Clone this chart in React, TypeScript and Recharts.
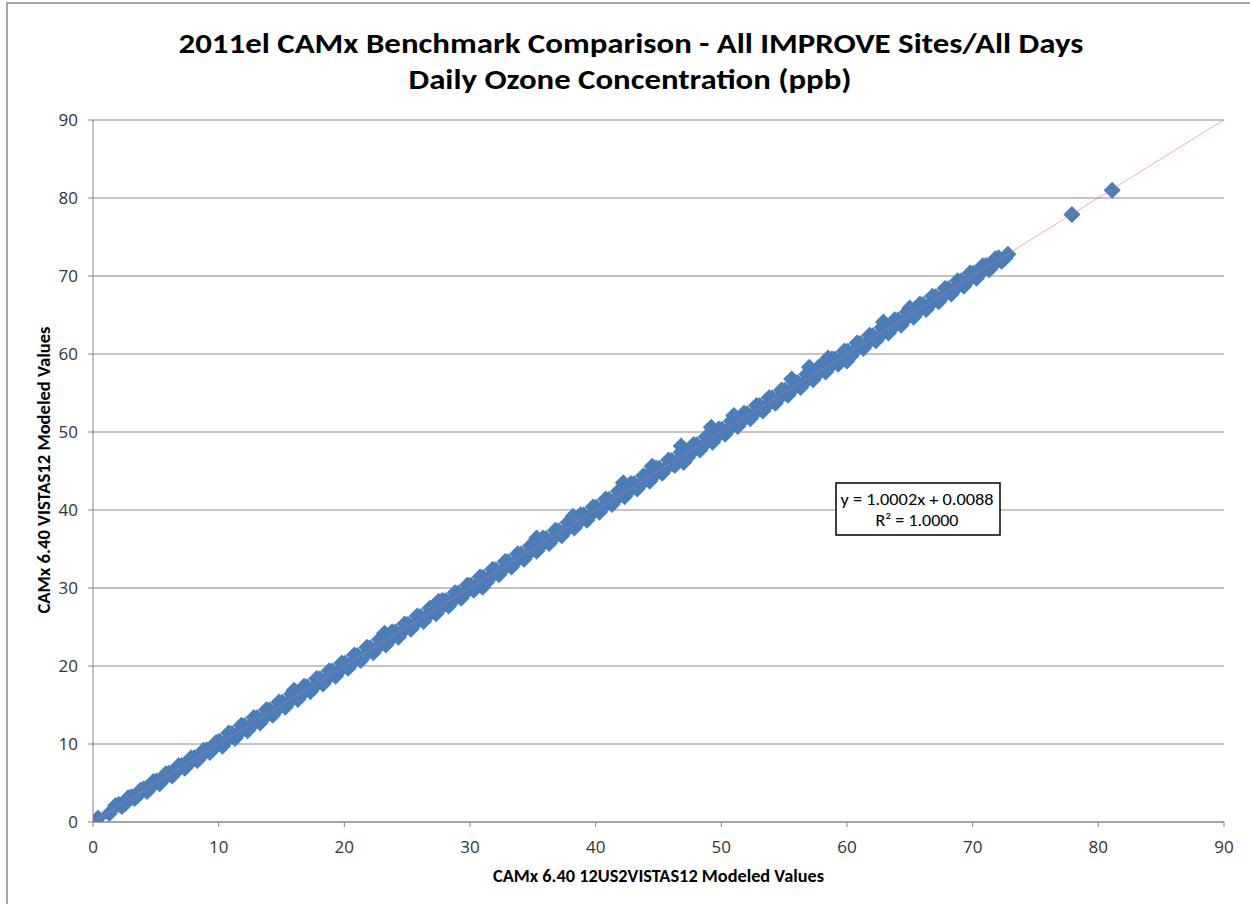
import React from "react";
import {
  ScatterChart,
  CartesianGrid,
  XAxis,
  YAxis,
  Scatter,
} from "recharts";

// [12US2VISTAS12, VISTAS12] daily ozone pairs
const bandPoints: [number, number][] = [
  [0.4, 0.5],
  [1.3, 1.1], [1.8, 2.1], [2.3, 2.0], [2.8, 3.1], [3.3, 3.0], [3.8, 4.1],
  [4.3, 3.9], [4.8, 5.2], [5.3, 4.9], [5.8, 6.2], [6.3, 5.9], [6.8, 7.2],
  [7.3, 6.9], [7.8, 8.2], [8.3, 7.9], [8.8, 9.2], [9.3, 8.9], [9.8, 10.2],
  [10.3, 9.7], [10.8, 11.4], [11.3, 10.7], [11.8, 12.4], [12.3, 11.7], [12.8, 13.4],
  [13.3, 12.7], [13.8, 14.4], [14.3, 13.7], [14.8, 15.4], [15.3, 14.7], [15.8, 16.4],
  [16.3, 15.7], [16.8, 17.4], [17.3, 16.7], [17.8, 18.4], [18.3, 17.7], [18.8, 19.4],
  [19.3, 18.7], [19.8, 20.4], [20.3, 19.7], [20.8, 21.4], [21.3, 20.7], [21.8, 22.4],
  [22.3, 21.7], [22.8, 23.4], [23.3, 22.7], [23.8, 24.4], [24.3, 23.7], [24.8, 25.4],
  [25.3, 24.7], [25.8, 26.4], [26.3, 25.7], [26.8, 27.4], [27.3, 26.7], [27.8, 28.4],
  [28.3, 27.7], [28.8, 29.4], [29.3, 28.7], [29.8, 30.4], [30.3, 29.7], [30.8, 31.4],
  [31.3, 30.7], [31.8, 32.4], [32.3, 31.7], [32.8, 33.4], [33.3, 32.7], [33.8, 34.4],
  [34.3, 33.7], [34.8, 35.4], [35.3, 34.7], [35.8, 36.4], [36.3, 35.7], [36.8, 37.4],
  [37.3, 36.7], [37.8, 38.4], [38.3, 37.7], [38.8, 39.4], [39.3, 38.7], [39.8, 40.4],
  [40.3, 39.7], [40.8, 41.4], [41.3, 40.7], [41.8, 42.4], [42.3, 41.7], [42.8, 43.4],
  [43.3, 42.7], [43.8, 44.4], [44.3, 43.7], [44.8, 45.4], [45.3, 44.7], [45.8, 46.4],
  [46.3, 45.7], [46.8, 47.4], [47.3, 46.7], [47.8, 48.4], [48.3, 47.7], [48.8, 49.4],
  [49.3, 48.7], [49.8, 50.4], [50.3, 49.7], [50.8, 51.4], [51.3, 50.7], [51.8, 52.4],
  [52.3, 51.7], [52.8, 53.4], [53.3, 52.7], [53.8, 54.4], [54.3, 53.7], [54.8, 55.4],
  [55.3, 54.7], [55.8, 56.4], [56.3, 55.7], [56.8, 57.4], [57.3, 56.7], [57.8, 58.4],
  [58.3, 57.7], [58.8, 59.4], [59.3, 58.7], [59.8, 60.4], [60.3, 59.7], [60.8, 61.4],
  [61.3, 60.7], [61.8, 62.4], [62.3, 61.7], [62.8, 63.4], [63.3, 62.7], [63.8, 64.4],
  [64.3, 63.7], [64.8, 65.4], [65.3, 64.7], [65.8, 66.4], [66.3, 65.7], [66.8, 67.4],
  [67.3, 66.7], [67.8, 68.4], [68.3, 67.7], [68.8, 69.4], [69.3, 68.7], [69.8, 70.4],
  [70.3, 69.7], [70.8, 71.3], [71.3, 70.8], [71.8, 72.2], [72.3, 71.9], [72.8, 72.8],
];

// in-between days filling the band
const bandMidPoints: [number, number][] = [
  [2.05, 2.25], [2.55, 2.35], [3.05, 3.25], [3.55, 3.35], [4.05, 4.25], [4.55, 4.35],
  [5.05, 5.25], [5.55, 5.35], [6.05, 6.25], [6.55, 6.35], [7.05, 7.25], [7.55, 7.35],
  [8.05, 8.25], [8.55, 8.35], [9.05, 9.25], [9.55, 9.35], [10.05, 10.35], [10.55, 10.25],
  [11.05, 11.35], [11.55, 11.25], [12.05, 12.35], [12.55, 12.25], [13.05, 13.35], [13.55, 13.25],
  [14.05, 14.35], [14.55, 14.25], [15.05, 15.35], [15.55, 15.25], [16.05, 16.35], [16.55, 16.25],
  [17.05, 17.35], [17.55, 17.25], [18.05, 18.35], [18.55, 18.25], [19.05, 19.35], [19.55, 19.25],
  [20.05, 20.35], [20.55, 20.25], [21.05, 21.35], [21.55, 21.25], [22.05, 22.35], [22.55, 22.25],
  [23.05, 23.35], [23.55, 23.25], [24.05, 24.35], [24.55, 24.25], [25.05, 25.35], [25.55, 25.25],
  [26.05, 26.35], [26.55, 26.25], [27.05, 27.35], [27.55, 27.25], [28.05, 28.35], [28.55, 28.25],
  [29.05, 29.35], [29.55, 29.25], [30.05, 30.35], [30.55, 30.25], [31.05, 31.35], [31.55, 31.25],
  [32.05, 32.35], [32.55, 32.25], [33.05, 33.35], [33.55, 33.25], [34.05, 34.35], [34.55, 34.25],
  [35.05, 35.35], [35.55, 35.25], [36.05, 36.35], [36.55, 36.25], [37.05, 37.35], [37.55, 37.25],
  [38.05, 38.35], [38.55, 38.25], [39.05, 39.35], [39.55, 39.25], [40.05, 40.35], [40.55, 40.25],
  [41.05, 41.35], [41.55, 41.25], [42.05, 42.35], [42.55, 42.25], [43.05, 43.35], [43.55, 43.25],
  [44.05, 44.35], [44.55, 44.25], [45.05, 45.35], [45.55, 45.25], [46.05, 46.35], [46.55, 46.25],
  [47.05, 47.35], [47.55, 47.25], [48.05, 48.35], [48.55, 48.25], [49.05, 49.35], [49.55, 49.25],
  [50.05, 50.35], [50.55, 50.25], [51.05, 51.35], [51.55, 51.25], [52.05, 52.35], [52.55, 52.25],
  [53.05, 53.35], [53.55, 53.25], [54.05, 54.35], [54.55, 54.25], [55.05, 55.35], [55.55, 55.25],
  [56.05, 56.35], [56.55, 56.25], [57.05, 57.35], [57.55, 57.25], [58.05, 58.35], [58.55, 58.25],
  [59.05, 59.35], [59.55, 59.25], [60.05, 60.35], [60.55, 60.25], [61.05, 61.35], [61.55, 61.25],
  [62.05, 62.35], [62.55, 62.25], [63.05, 63.35], [63.55, 63.25], [64.05, 64.35], [64.55, 64.25],
  [65.05, 65.35], [65.55, 65.25], [66.05, 66.35], [66.55, 66.25], [67.05, 67.35], [67.55, 67.25],
  [68.05, 68.35], [68.55, 68.25], [69.05, 69.35], [69.55, 69.25], [70.05, 70.35], [70.55, 70.25],
  [71.05, 71.35], [71.55, 71.25], [72.05, 72.35], [72.55, 72.25],
];

// points sticking out above / below the band
const bumpPoints: [number, number][] = [
  [16.0, 16.9], [23.2, 24.2], [27.5, 28.3], [35.3, 36.4], [38.2, 39.2],
  [42.2, 43.5], [44.5, 45.6], [46.8, 48.2], [49.2, 50.6], [51.0, 52.1],
  [55.6, 56.8], [57.0, 58.3], [58.5, 59.5], [62.9, 64.1], [65.0, 65.9],
  [31.0, 30.1], [47.0, 46.1], [60.0, 59.1],
];

const outlierPoints: [number, number][] = [
  [77.9, 77.9],
  [81.1, 81.0],
];

// linear trendline shown in the box
const slope = 1.0002;
const intercept = 0.0088;
const rSquared = "1.0000";
const trendRange = [0, 90];

const axisTicks = [0, 10, 20, 30, 40, 50, 60, 70, 80, 90];

const scatterData = [...bandPoints, ...bandMidPoints, ...bumpPoints, ...outlierPoints].map(
  ([x, y]) => ({ x, y })
);
const trendData = trendRange.map((x) => ({ x, y: slope * x + intercept }));

const BLUE = "#4A7EBB";

const Diamond = (props: any) => {
  const { cx, cy } = props;
  if (cx == null || cy == null) return <g />;
  const r = 8.5;
  return (
    <path
      d={`M${cx},${cy - r}L${cx + r},${cy}L${cx},${cy + r}L${cx - r},${cy}Z`}
      fill={BLUE}
    />
  );
};

const tickStyle = {
  fontFamily: "'Open Sans', sans-serif",
  fontSize: 17,
  fill: "#333",
};

const titleFont = "Carlito, 'Liberation Sans Narrow', 'Open Sans', sans-serif";

export default function App() {
  return (
    <div
      style={{
        position: "absolute",
        left: 0,
        top: 0,
        width: 1250,
        height: 904,
        background: "#fff",
        overflow: "hidden",
      }}
    >
      <ScatterChart
        width={1250}
        height={904}
        margin={{ top: 120, right: 26, bottom: 52, left: 0 }}
      >
        <CartesianGrid vertical={false} stroke="#b0b0b0" strokeWidth={1.3} />
        <XAxis
          type="number"
          dataKey="x"
          domain={[0, 90]}
          ticks={axisTicks}
          height={30}
          tickSize={5}
          tickMargin={14}
          stroke="#868686"
          tick={tickStyle}
          allowDataOverflow
        />
        <YAxis
          type="number"
          dataKey="y"
          domain={[0, 90]}
          ticks={axisTicks}
          width={93}
          tickSize={5}
          tickMargin={10}
          stroke="#868686"
          tick={tickStyle}
          allowDataOverflow
        />
        <Scatter
          data={scatterData}
          fill={BLUE}
          shape={Diamond}
          isAnimationActive={false}
        />
        <Scatter
          data={trendData}
          line={{ stroke: "#E07070", strokeWidth: 1, strokeOpacity: 0.55 }}
          shape={() => <g />}
          isAnimationActive={false}
        />
      </ScatterChart>

      <svg
        width={1250}
        height={904}
        style={{ position: "absolute", left: 0, top: 0, pointerEvents: "none" }}
      >
        <path d="M7,904 L7,3 L1250,3" fill="none" stroke="#8a8a8a" strokeWidth={1.5} />
        <text
          x={631}
          y={53}
          textAnchor="middle"
          fontFamily={titleFont}
          fontWeight="bold"
          fontSize={29}
          textLength={905}
          lengthAdjust="spacingAndGlyphs"
          fill="#000"
        >
          2011el CAMx Benchmark Comparison - All IMPROVE Sites/All Days
        </text>
        <text
          x={630}
          y={89}
          textAnchor="middle"
          fontFamily={titleFont}
          fontWeight="bold"
          fontSize={29}
          textLength={443}
          lengthAdjust="spacingAndGlyphs"
          fill="#000"
        >
          Daily Ozone Concentration (ppb)
        </text>
        <text
          x={658.5}
          y={882}
          textAnchor="middle"
          fontFamily={titleFont}
          fontWeight="bold"
          fontSize={17}
          textLength={331}
          lengthAdjust="spacingAndGlyphs"
          fill="#000"
        >
          CAMx 6.40 12US2VISTAS12 Modeled Values
        </text>
        <text
          x={50}
          y={470}
          transform="rotate(-90, 50, 470)"
          textAnchor="middle"
          fontFamily={titleFont}
          fontWeight="bold"
          fontSize={17}
          textLength={287}
          lengthAdjust="spacingAndGlyphs"
          fill="#000"
        >
          CAMx 6.40 VISTAS12 Modeled Values
        </text>
        <rect x={836} y={483} width={164} height={52} fill="#fff" stroke="#000" strokeWidth={1.5} />
        <text
          x={917}
          y={505}
          textAnchor="middle"
          fontFamily={titleFont}
          fontSize={16.5}
          textLength={153}
          lengthAdjust="spacingAndGlyphs"
          fill="#000"
        >
          {`y = ${slope.toFixed(4)}x + ${intercept.toFixed(4)}`}
        </text>
        <text
          x={917}
          y={526}
          textAnchor="middle"
          fontFamily={titleFont}
          fontSize={16.5}
          textLength={83}
          lengthAdjust="spacingAndGlyphs"
          fill="#000"
        >
          {`R² = ${rSquared}`}
        </text>
      </svg>
    </div>
  );
}
